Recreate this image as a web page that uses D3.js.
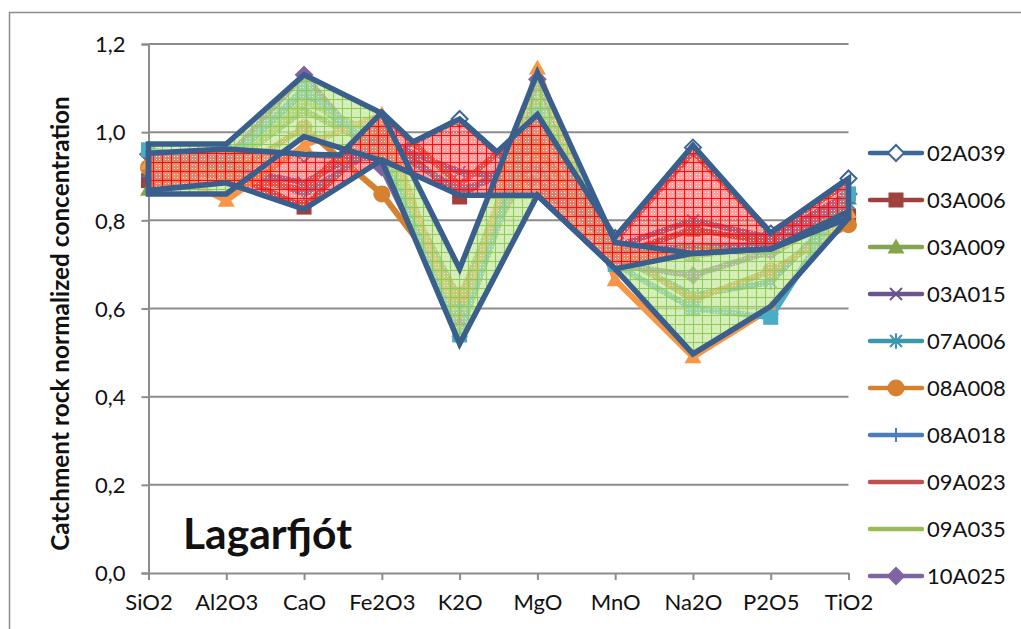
<!DOCTYPE html>
<html><head><meta charset="utf-8">
<script src="https://cdn.jsdelivr.net/npm/d3@7"></script>
<style>
body{margin:0;background:#fff}
svg{display:block}
text{font-family:Lato,"Open Sans",sans-serif}
</style>
</head><body>
<svg id="chart" width="1021" height="629"></svg>
<script>
// ---------- data ----------
const categories = ["SiO2","Al2O3","CaO","Fe2O3","K2O","MgO","MnO","Na2O","P2O5","TiO2"];
const yTicks = [0,0.2,0.4,0.6,0.8,1.0,1.2];
const titleText = "Lagarfjót";
const yTitle = "Catchment rock normalized concentration";

const legendNames = ["02A039","03A006","03A009","03A015","07A006","08A008","08A018","09A023","09A035","10A025"];
const v02A039 = [0.95,0.96,0.95,0.94,1.03,0.87,0.76,0.965,0.77,0.895];
const v03A006 = [0.89,0.91,0.83,1.00,0.853,0.97,0.72,0.78,0.75,0.81];
const v03A009 = [0.87,0.92,1.05,0.96,0.62,1.06,0.71,0.72,0.74,0.85];
const v03A015 = [0.91,0.92,0.885,0.98,0.91,0.89,0.74,0.80,0.76,0.86];
const v07A006 = [0.94,0.93,1.09,0.94,0.60,1.04,0.72,0.63,0.66,0.84];
const v08A008 = [0.92,0.90,1.01,0.86,0.63,0.96,0.73,0.62,0.685,0.79];
const v08A018 = [0.90,0.93,0.86,0.97,0.87,0.92,0.73,0.74,0.745,0.84];
const v09A023 = [0.92,0.90,0.87,1.04,0.88,1.03,0.755,0.955,0.773,0.885];
const v09A035 = [0.93,0.91,1.07,0.99,0.58,1.10,0.70,0.74,0.72,0.83];
const v10A025 = [0.95,0.94,1.13,0.92,0.56,1.12,0.70,0.675,0.73,0.86];
// further samples whose legend entries fall below the visible area
const vExtraTriangle = [0.93,0.845,0.97,1.04,0.55,1.145,0.665,0.49,0.60,0.82];
const vExtraSquare   = [0.96,0.93,1.10,0.95,0.54,1.04,0.70,0.60,0.58,0.86];

// hand-drawn envelope shapes: [category index, value]
const greenEnvelope = [[0,0.973],[1,0.973],[2,1.13],[3,1.043],[4,0.69],[5,1.135],[6,0.75],[7,0.725],[8,0.735],[9,0.82],
                       [9,0.805],[8,0.605],[7,0.497],[6,0.69],[5,0.857],[4,0.52],[3,0.935],[2,0.99],[1,0.86],[0,0.86]];
const redEnvelope = [[0,0.952],[1,0.962],[2,0.95],[2.46,0.948],[3,1.045],[3.4,0.978],[4,1.03],[4.48,0.955],[5,1.04],
                     [6,0.762],[7,0.97],[8,0.771],[9,0.895],
                     [9,0.805],[8,0.735],[7,0.725],[6,0.69],[5,0.857],[4,0.857],[3,0.937],[2,0.825],[1,0.885],[0,0.868]];

// ---------- styles ----------
const seriesStyle = [
  {vals:v02A039, color:"#3d6699", marker:"diamondHollow"},
  {vals:v03A006, color:"#a0413d", marker:"square"},
  {vals:v03A009, color:"#84a54c", marker:"triangle"},
  {vals:v03A015, color:"#6c558e", marker:"x"},
  {vals:v07A006, color:"#3b96ae", marker:"star"},
  {vals:v08A008, color:"#d6812f", marker:"circle"},
  {vals:v08A018, color:"#4a7ebb", marker:"plus"},
  {vals:v09A023, color:"#c0504d", marker:"none"},
  {vals:v09A035, color:"#9bbb59", marker:"none"},
  {vals:v10A025, color:"#8064a2", marker:"diamond"}
];
const extraStyle = [
  {vals:vExtraTriangle, color:"#f79646", marker:"triangle"},
  {vals:vExtraSquare, color:"#4bacc6", marker:"square"}
];

const svg = d3.select("#chart");
const x = d3.scalePoint().domain(categories).range([148.5, 848.5]);
const xi = d3.scaleLinear().domain([0, categories.length-1]).range([148.5, 848.5]);
const y = d3.scaleLinear().domain([0, 1.2]).range([573, 44]);

// patterns
const defs = svg.append("defs");
const gp = defs.append("pattern").attr("id","gpat").attr("width",9).attr("height",9).attr("patternUnits","userSpaceOnUse");
gp.append("rect").attr("width",9).attr("height",9).attr("fill","#c2e596").attr("fill-opacity",0.7);
gp.append("path").attr("d","M0 0.5H9M0.5 0V9").attr("stroke","#86c94c").attr("stroke-width",1).attr("stroke-opacity",0.9);
[[3,3],[6,6],[3,6],[6,3]].forEach(p=>gp.append("rect").attr("x",p[0]).attr("y",p[1]).attr("width",1).attr("height",1).attr("fill","#eaf7d8").attr("fill-opacity",0.8));
const rp = defs.append("pattern").attr("id","rpat").attr("width",9).attr("height",9).attr("patternUnits","userSpaceOnUse");
rp.append("rect").attr("width",9).attr("height",9).attr("fill","#ff5252").attr("fill-opacity",0.58);
rp.append("path").attr("d","M0 0.5H9M0.5 0V9").attr("stroke","#ff0000").attr("stroke-width",1).attr("stroke-opacity",0.9);
[[3,3],[6,6],[3,6],[6,3]].forEach(p=>rp.append("rect").attr("x",p[0]).attr("y",p[1]).attr("width",1).attr("height",1).attr("fill","#ffffff").attr("fill-opacity",0.8));

// frame
svg.append("rect").attr("x",9.5).attr("y",12.5).attr("width",1100).attr("height",700)
  .attr("fill","none").attr("stroke","#8c8c8c").attr("stroke-width",1.5);

// gridlines
svg.append("g").selectAll("line").data(yTicks.filter(d=>d>0)).join("line")
  .attr("x1",148.5).attr("x2",848.5).attr("y1",d=>y(d)).attr("y2",d=>y(d))
  .attr("stroke","#8c8c8c").attr("stroke-width",2);

// y axis
const yAxis = svg.append("g").attr("transform","translate(148.5,0)")
  .call(d3.axisLeft(y).tickValues(yTicks).tickSize(7).tickPadding(16).tickFormat(d=>d3.format(".1f")(d).replace(".",",")));
yAxis.select(".domain").attr("stroke","#8c8c8c").attr("stroke-width",2);
yAxis.selectAll(".tick line").attr("stroke","#8c8c8c").attr("stroke-width",2);
yAxis.selectAll("text").attr("font-size",22).attr("fill","#111").attr("font-family","Lato, sans-serif").attr("dy","0.35em");

// x axis
const xAxis = svg.append("g").attr("transform","translate(0,573)")
  .call(d3.axisBottom(x).tickSize(7).tickPadding(14).tickSizeOuter(0));
xAxis.select(".domain").attr("stroke","#8c8c8c").attr("stroke-width",2);
xAxis.selectAll(".tick line").attr("stroke","#8c8c8c").attr("stroke-width",2);
xAxis.selectAll("text").attr("font-size",22).attr("fill","#111").attr("font-family","Lato, sans-serif");

// marker drawing
function drawMarker(g, type, cx, cy, color, scale=1){
  const s = scale;
  if(type==="none") return;
  if(type==="diamond"||type==="diamondHollow"){
    const r=8*s;
    g.append("path").attr("d",`M${cx},${cy-r}L${cx+r},${cy}L${cx},${cy+r}L${cx-r},${cy}Z`)
      .attr("fill", type==="diamond"?color:"#fff").attr("stroke",color).attr("stroke-width",2);
  } else if(type==="square"){
    const r=7.5*s;
    g.append("rect").attr("x",cx-r).attr("y",cy-r).attr("width",2*r).attr("height",2*r).attr("fill",color);
  } else if(type==="triangle"){
    const r=8.5*s;
    g.append("path").attr("d",`M${cx},${cy-r}L${cx+r},${cy+r*0.75}L${cx-r},${cy+r*0.75}Z`).attr("fill",color);
  } else if(type==="circle"){
    g.append("circle").attr("cx",cx).attr("cy",cy).attr("r",8.5*s).attr("fill",color);
  } else if(type==="x"){
    const r=6*s;
    g.append("path").attr("d",`M${cx-r},${cy-r}L${cx+r},${cy+r}M${cx-r},${cy+r}L${cx+r},${cy-r}`).attr("stroke",color).attr("stroke-width",2);
  } else if(type==="star"){
    const r=6*s;
    g.append("path").attr("d",`M${cx-r},${cy-r}L${cx+r},${cy+r}M${cx-r},${cy+r}L${cx+r},${cy-r}M${cx},${cy-r*1.3}L${cx},${cy+r*1.3}`).attr("stroke",color).attr("stroke-width",2);
  } else if(type==="plus"){
    const r=7*s;
    g.append("path").attr("d",`M${cx-r},${cy}L${cx+r},${cy}M${cx},${cy-r}L${cx},${cy+r}`).attr("stroke",color).attr("stroke-width",2);
  }
}

// series lines
const line = d3.line().x((d,i)=>x(categories[i])).y(d=>y(d));
const plotG = svg.append("g");
const allSeries = seriesStyle.concat(extraStyle);
allSeries.forEach(s=>{
  plotG.append("path").attr("d",line(s.vals)).attr("fill","none").attr("stroke",s.color)
    .attr("stroke-width",6).attr("stroke-linejoin","round").attr("stroke-linecap","round");
});
allSeries.forEach(s=>{
  const g = plotG.append("g");
  s.vals.forEach((v,i)=>drawMarker(g, s.marker, x(categories[i]), y(v), s.color, 1));
});

// envelopes
const poly = d3.line().x(d=>xi(d[0])).y(d=>y(d[1])).curve(d3.curveLinearClosed);
svg.append("path").attr("d",poly(greenEnvelope)).attr("fill","url(#gpat)").attr("fill-rule","nonzero");
svg.append("path").attr("d",poly(redEnvelope)).attr("fill","url(#rpat)").attr("fill-rule","nonzero");
svg.append("path").attr("d",poly(greenEnvelope)).attr("fill","none").attr("stroke","#3a5f8d").attr("stroke-width",5.5).attr("stroke-linejoin","miter").attr("stroke-miterlimit",3);
svg.append("path").attr("d",poly(redEnvelope)).attr("fill","none").attr("stroke","#3a5f8d").attr("stroke-width",5.5).attr("stroke-linejoin","miter").attr("stroke-miterlimit",3);

// legend
const leg = svg.append("g");
legendNames.forEach((name,i)=>{
  const s = seriesStyle[i];
  const ly = 153 + i*47;
  leg.append("line").attr("x1",870).attr("x2",922).attr("y1",ly).attr("y2",ly)
    .attr("stroke",s.color).attr("stroke-width",4.5).attr("stroke-linecap","round");
  drawMarker(leg, s.marker, 896, ly, s.color, 1);
  leg.append("text").attr("x",927).attr("y",ly).attr("dy","0.36em").attr("font-size",22).attr("fill","#111").text(name);
});

// y title
const yt = svg.append("text").attr("transform","translate(69,323.5) rotate(-90)")
  .attr("text-anchor","middle").attr("font-weight","bold").attr("font-size",18).attr("fill","#111").text(yTitle);
const ytl = yt.node().getComputedTextLength();
yt.attr("font-size", 18*455/ytl);

// chart label
const tt = svg.append("text").attr("x",183).attr("y",549).attr("font-weight","bold").attr("font-size",40).attr("fill","#111").text(titleText);
const ttl = tt.node().getComputedTextLength();
tt.attr("font-size", 40*169/ttl);
</script>
</body></html>
